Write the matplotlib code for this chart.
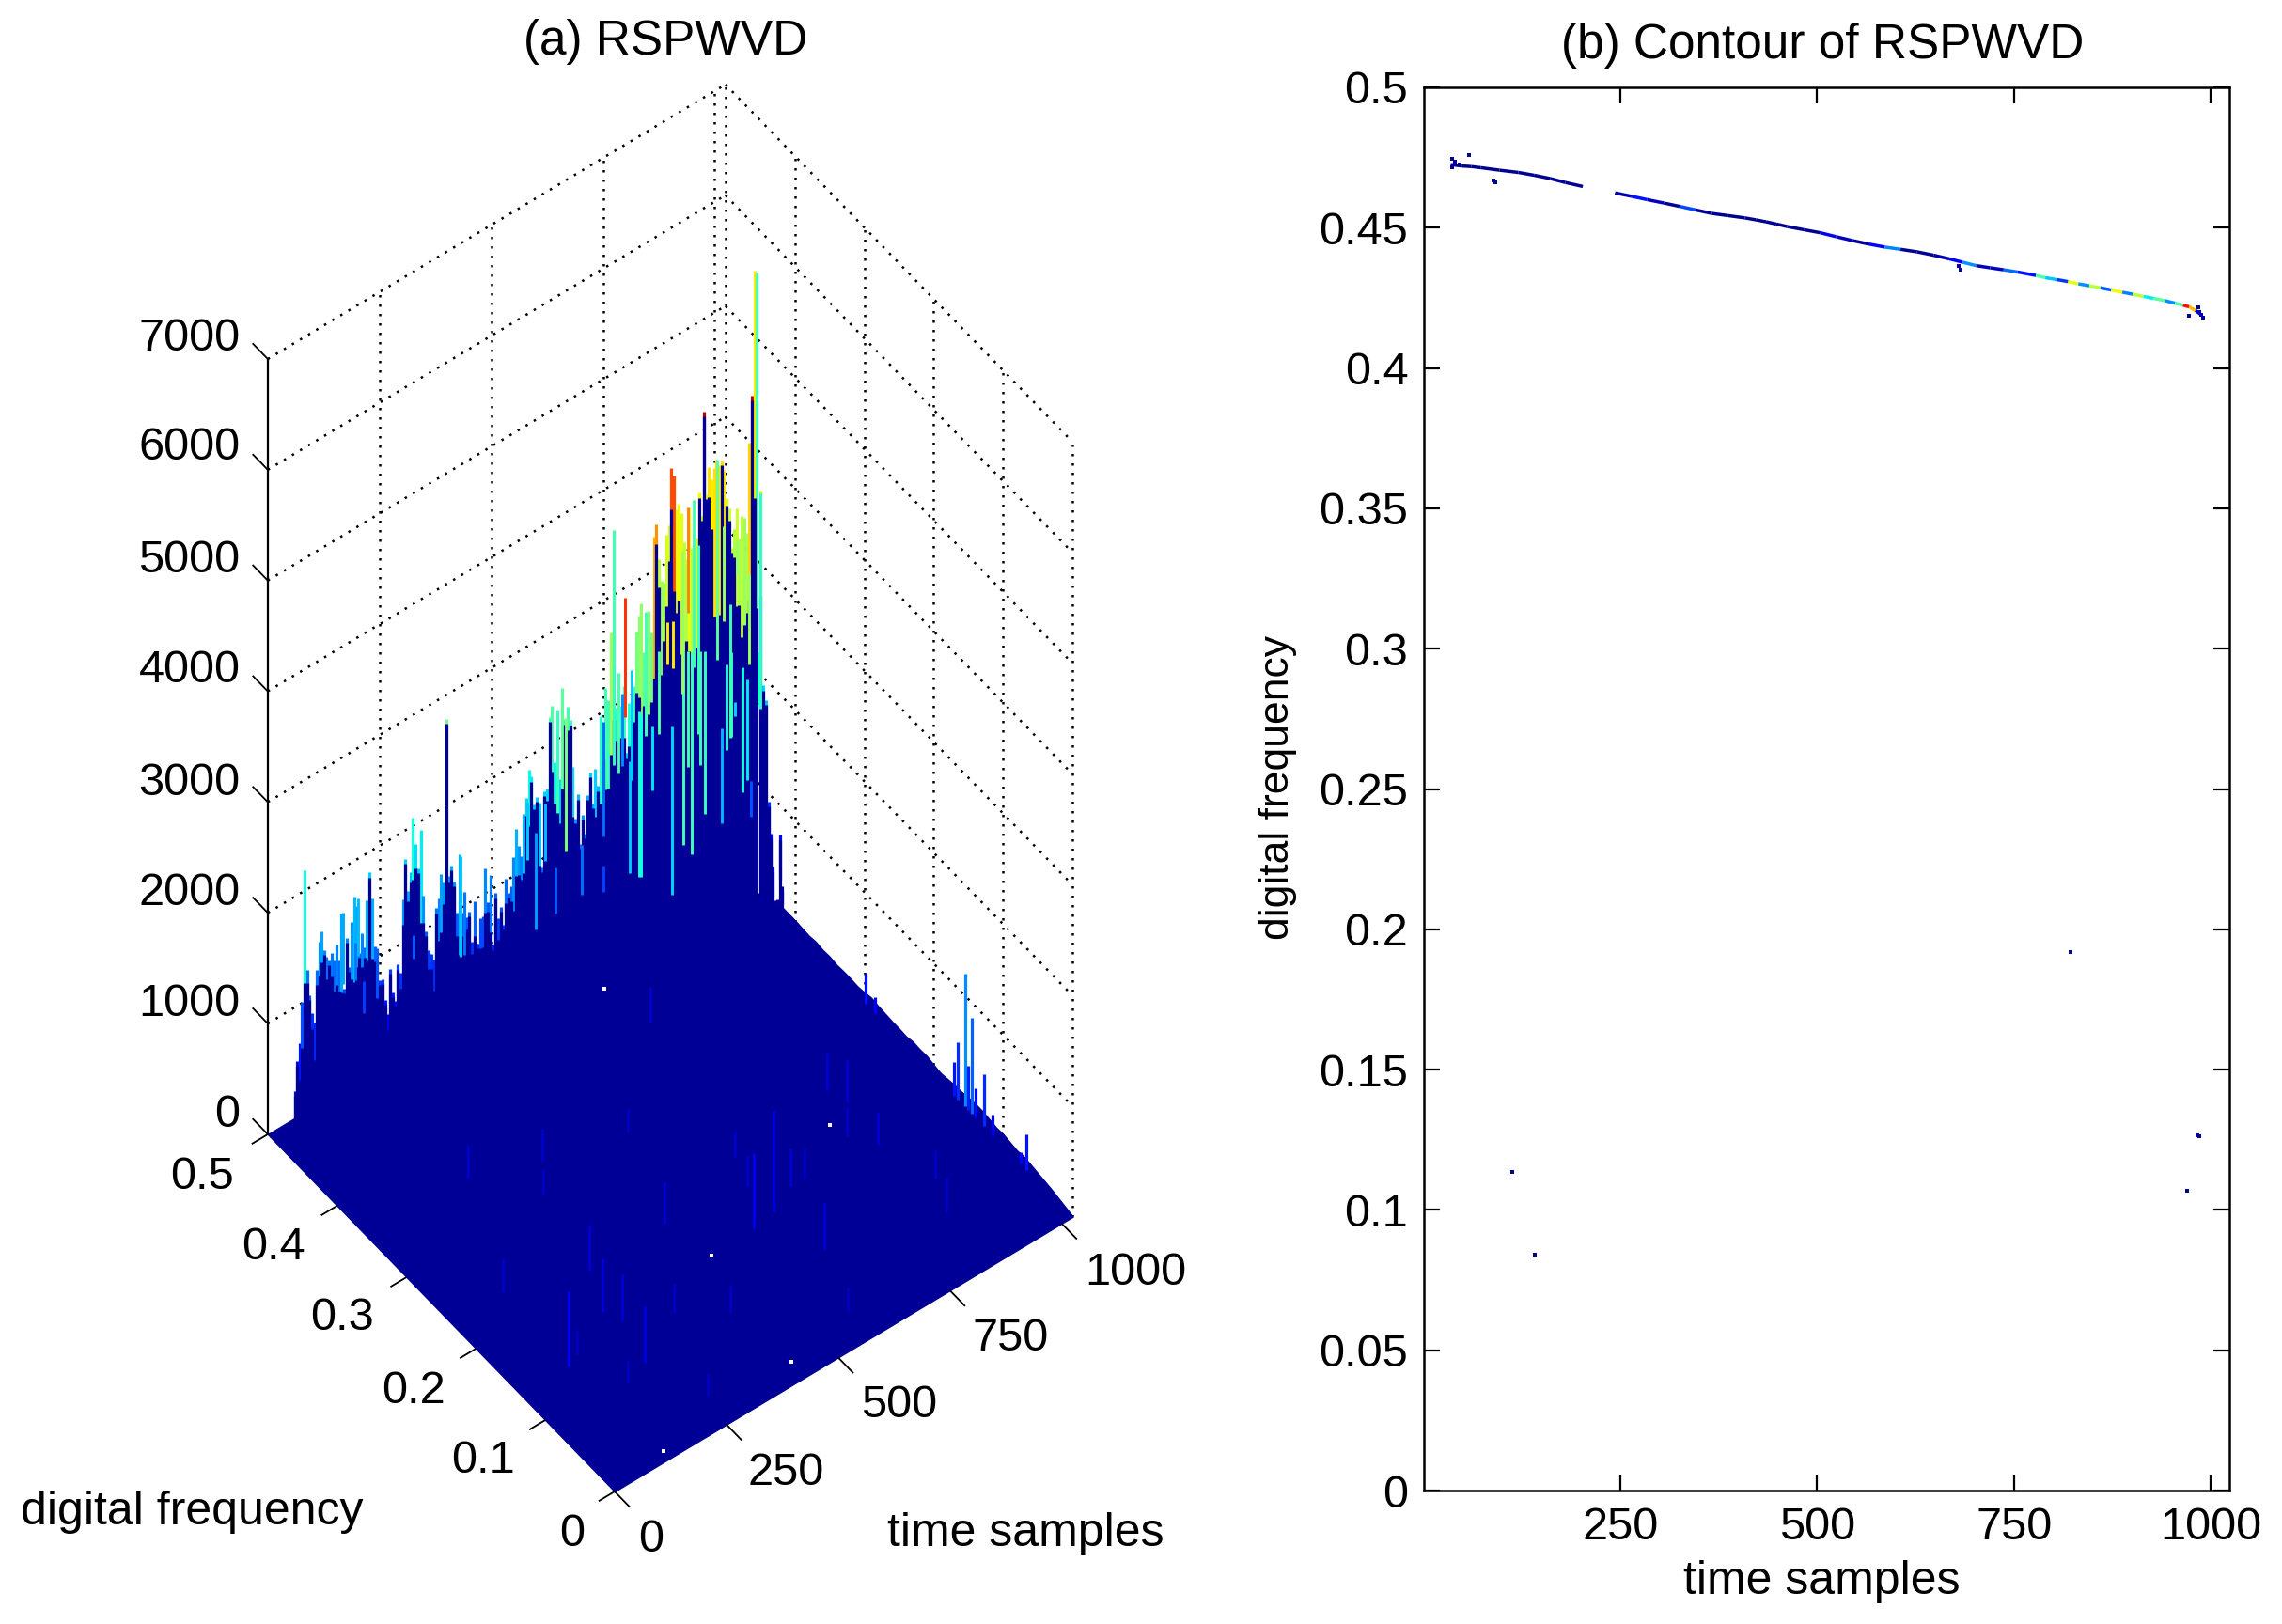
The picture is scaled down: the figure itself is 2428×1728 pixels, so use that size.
import numpy as np
import matplotlib
matplotlib.use("Agg")
import matplotlib.pyplot as plt
from matplotlib.collections import LineCollection
from mpl_toolkits.mplot3d import proj3d
from mpl_toolkits.mplot3d.art3d import Line3DCollection, Poly3DCollection

plt.rcParams['font.family'] = ['Liberation Sans', 'DejaVu Sans']

# ---------- data ----------
time_limits = [0, 1024]
freq_limits = [0, 0.5]
height_limits = [0, 7000]
time_ticks = [0, 250, 500, 750, 1000]
freq_ticks_3d = [0, 0.1, 0.2, 0.3, 0.4, 0.5]
height_ticks = [0, 1000, 2000, 3000, 4000, 5000, 6000, 7000]
contour_freq_ticks = [0, 0.05, 0.1, 0.15, 0.2, 0.25, 0.3, 0.35, 0.4, 0.45, 0.5]
contour_time_ticks = [250, 500, 750, 1000]
color_max = 6500

# columns of the ridge in panel (a), read left to right
ridge_peak = [
 523,786,931,1295,2468,1553,1317,1139,1043,1513,1756,1838,1655,1586,1540,1594,1513,1644,1492,1904,
 1213,1662,1390,1782,2004,1906,1473,1636,1499,1917,2155,1907,1466,1440,1143,1143,942,800,1200,977,
 887,1207,1124,1772,2128,1830,1990,2465,2223,1988,2330,1720,1388,1205,1167,1099,1555,1628,1838,1756,
 3221,1793,1875,1723,1432,1942,1406,1581,1345,1386,1099,1453,1064,
 1059,1274,1279,1697,1385,1622,977,1434,1200,1289,1120,1518,1383,1428,1686,1931,1764,1663,2033,2165,
 2410,2335,2074,2133,2066,1472,2152,2166,2799,2889,2371,2833,2199,3006,2714,2813,2683,2251,1776,1978,
 1520,1776,1595,1927,2120,1829,2134,1966,2588,2228,2823,2702,3304,4213,2600,2900,2600,2763,2148,2589,
 2242,2718,3201,
 3330,3434,2979,3093,3335,3129,3977,4081,3755,3547,3524,3949,4016,4528,4446,4128,4174,4073,3805,3639,
 4095,3719,3632,3792,4183,3963,4896,4136,4373,4249,4347,4407,4348,4380,4286,4014,3913,3551,3706,3886,
 3600,3793,3300,3620,4421,4841,5958,5930,3954,2189,2050,1124,819,513,189,190,758,282]
ridge_core = [
 523,786,601,873,1454,1440,1317,998,705,1372,1446,1551,1655,1383,1540,1382,1232,1278,1211,1195,
 1213,1662,1390,1269,1229,1357,1465,1335,1408,1368,2155,1372,1331,1096,1143,1143,942,659,1200,977,
 887,1207,978,1547,2128,1731,1891,1908,1998,1988,1485,1475,1388,1036,1026,818,1555,1248,1317,1559,
 3221,1736,1875,1681,1221,1036,1195,1018,1232,1386,987,1144,825,
 1059,1000,1000,1300,1300,1100,977,1434,1000,1289,1120,1300,1383,1300,1200,1500,1500,1450,1500,2000,
 1900,2335,2074,2133,1500,1472,2152,2050,2799,2300,2000,1900,1800,2100,2714,2600,2683,1800,1776,1978,
 1520,1776,1595,1927,2120,1829,1700,1966,1800,2228,1900,1900,2200,2500,2300,2000,2308,2300,2148,2200,
 2242,2400,2650,
 2600,2300,2500,2300,2400,2500,2700,3900,3500,2700,3000,3300,3700,4150,3400,3200,3300,2800,2400,2900,
 2800,2600,2700,2800,4183,3963,4896,4136,4100,3800,3000,2900,3000,4380,3300,3950,3800,3551,3450,3000,
 3000,2700,2800,2900,3000,4841,3900,2900,3000,2189,2050,1124,819,513,189,150,758,282]
ridge_block_counts = [73, 63, 58]
ridge_block_times = [(18, 396), (398, 725), (730, 1025)]
# columns whose facet colour differs from what their height gives
shade_index = [125, 126, 142, 143, 149, 150, 162, 181, 182, 183]
shade_value = [3500, 2800, 4700, 4900, 5400, 5400, 6200, 6200, 4300, 2800]

# contour ridge of panel (b); NaN marks a gap in the trace
contour_t = [34,48,60,72,96,120,140,161,180,202,np.nan,243,264,284,305,325,346,366,387,408,422,435,448,462,483,
             504,524,545,565,586,606,627,648,668,685,702,720,737,755,778,790,805,819,832,846,860,874,888,901,915,
             928,942,955,965,973,981,989]
contour_f = [.4725,.472,.4718,.4714,.4705,.4697,.4687,.4675,.4661,.4647,np.nan,.4624,.4612,.46,.4588,.4576,.4563,
             .4551,.4543,.4535,.4528,.4521,.4513,.4504,.4493,.4482,.4468,.4454,.4442,.4431,.4423,.4414,.4402,.4389,
             .4377,.4365,.4357,.435,.4342,.433,.4322,.4315,.4308,.43,.4293,.4286,.4278,.427,.4263,.4255,.4248,.424,
             .4231,.4224,.4218,.4205,.4188]
contour_z = [100,100,50,100,100,100,100,100,100,50,0,200,800,300,100,1100,100,100,50,100,50,100,50,100,100,
             600,300,100,700,1400,100,100,200,600,1500,300,300,1300,800,2500,1800,1000,3500,1500,3200,1200,3600,
             1400,3200,2000,2600,1500,2500,5000,4000,300,100]
stray_t = [57, 89, 682, 973, 112, 141, 970, 983, 822, 986, 36, 40, 45, 36, 984, 986, 988, 990, 91, 680]
stray_f = [.476, .4669, .435, .4186, .1136, .084, .1068, .1266, .192, .1263, .4745, .4735, .4725, .4715,
           .4215, .42, .419, .418, .4662, .4365]

# back rim of the floor at the far time edge
rim_band_freq = [.42,.40,.39,.38,.37,.36,.35,.34,.33,.32,.31,.30,.29,.28,.27,.26,.25,.24,.23,.22,.21,.20,.19,.18,.17,.16,
                 .15,.14,.13,.12,.11,.10,.09,.08,.07,.06,.05,.04,.03,.02,.01,0]
rim_band_height = [100,100,95,90,100,90,95,85,90,90,85,95,110,100,95,90,90,85,100,95,100,85,75,85,95,100,
                   110,120,120,110,100,105,95,85,95,85,75,65,55,40,25,10]
rim_spike_freq = [.298,.285,.17,.165,.155,.15,.145,.14,.127,.115,.066,.075]
rim_spike_height = [275,150,300,513,1194,400,863,262,470,180,320,100]

# faint spikes standing on the floor
streak_t = [267,229,106,219,245,609,667,438,694,863,557,629,351,606,512,117,816,849,630,851,854,409,329,698,135,262,223,305,167,883,575]
streak_f = [.209,.165,.135,.098,.147,.164,.177,.21,.396,.221,.159,.103,.33,.2,.311,.236,.191,.167,.232,.242,.072,.097,.127,.176,.141,.035,.355,.3,.088,.107,.035]
streak_z = [415,490,680,510,415,905,340,377,320,377,680,415,300,280,220,300,260,300,240,340,300,240,260,280,220,200,300,240,220,260,220]

# lighter stripes inside the ridge body
stripe_t = [734,757,771,798,821,831,839,857,866,902,912,920,929,943,954,961,976,517,558,612,657,730,711,266,146,190,163,
            788,801,820,831,844,853,892,905,918,932,947,958,979,679,696,714,657,562,579,501,536,361,152,122,700,745]
stripe_hi = [2434,2274,2921,2189,2818,2798,2780,2744,2724,1960,2517,2612,2143,2424,2297,1360,2498,1814,1419,1506,1229,2471,2062,1403,1581,1349,1195,
             3156,3138,3735,4098,4139,3710,4405,3777,3046,3592,3770,3232,3924,2993,2700,2877,2523,2805,2726,2112,2040,1926,1970,1904,3558,3339]
stripe_lo = [969,1697,2175,669,1072,1756,949,1724,1260,1101,1743,1846,2016,1298,1386,1037,2013,941,997,1055,990,979,1048,1192,1243,997,913,
             2768,2707,2442,3150,2631,2006,2595,2915,1839,3290,2820,2420,1985,2088,2050,1886,1488,2064,1521,1594,1520,1020,1453,1260,2480,2218]
stripe_shade = [2434,2274,2921,2189,2818,2798,2780,2744,2724,1960,2517,2612,2143,2424,2297,1360,2498,1814,1419,1506,1229,2471,2062,1403,1581,1349,1195,
                4300,4300,3500,5000,2800,2800,3000,3500,2800,3500,3500,3500,2600,2700,1700,2100,1500,2700,3300,2100,2000,2100,2000,1900,5600,2800]

hole_t = [676, 461, 428, 124, 808]
hole_f = [.45, .157, .021, .01, .21]

# ---------- figure ----------
W, H = 2428, 1728
fig = plt.figure(figsize=(W / 100, H / 100), dpi=100, facecolor='white')
jet = plt.get_cmap('jet')
navy = jet(0.02)
TICK_FS = 35
LABEL_FS = 36
TITLE_FS = 37


def pxtext(x, y, s, **kw):
    kw.setdefault('ha', 'center')
    kw.setdefault('va', 'center')
    fig.text(x / W, 1 - y / H, s, **kw)


# ---------- panel (a) ----------
side = 1700
ax = fig.add_axes([0, 0, side / W, side / H], projection='3d', proj_type='ortho')
ax.computed_zorder = False
ax.set_axis_off()
ax.patch.set_alpha(0)
ax.view_init(elev=51.8, azim=-127.35)
ax.set_xlim(*time_limits, view_margin=0)
ax.set_ylim(*freq_limits, view_margin=0)
ax.set_zlim(*height_limits, view_margin=0)
box = (612.6, 608.4, 1334)
ax.set_box_aspect(box, zoom=1.0)


def to_px(x, y, z):
    ax.apply_aspect()
    X, Y, _ = proj3d.proj_transform(x, y, z, ax.get_proj())
    return ax.transData.transform((X, Y))


# fit the projected box onto the reference: origin and far time corner
p0 = to_px(0, 0, 0)
p1 = to_px(time_limits[1], 0, 0)
ax.set_box_aspect(box, zoom=np.hypot(487, 292) / np.hypot(*(p1 - p0)))
p0 = to_px(0, 0, 0)
target = np.array([654, H - 1587])
pos = ax.get_position()
ax.set_position([pos.x0 + (target[0] - p0[0]) / W, pos.y0 + (target[1] - p0[1]) / H, pos.width, pos.height])

t_end, f_end, z_end = time_limits[1], freq_limits[1], height_limits[1]
grid = []
for z in height_ticks[1:]:
    grid.append([(0, f_end, z), (t_end, f_end, z)])
    grid.append([(t_end, f_end, z), (t_end, 0, z)])
for t in time_ticks[1:]:
    grid.append([(t, f_end, 0), (t, f_end, z_end)])
for f in freq_ticks_3d[1:-1]:
    grid.append([(t_end, f, 0), (t_end, f, z_end)])
grid.append([(t_end, f_end, 0), (t_end, f_end, z_end)])
grid.append([(t_end, 0, 0), (t_end, 0, z_end)])


def add_lines(segs, colors, lw, zorder, **kw):
    lc = Line3DCollection(segs, colors=colors, linewidths=lw, zorder=zorder, capstyle='butt', **kw)
    lc.set_clip_on(False)
    ax.add_collection3d(lc, autolim=False)
    return lc


def add_poly(verts, zorder):
    pc = Poly3DCollection([verts], facecolors=[navy], edgecolors=[navy], linewidths=1, zorder=zorder)
    pc.set_clip_on(False)
    ax.add_collection3d(pc, autolim=False)


add_lines(grid, 'black', 1.8, 1, linestyles=[(0, (1, 3))])

add_poly([(0, 0, 0), (t_end, 0, 0), (t_end, f_end, 0), (0, f_end, 0)], 2)
add_poly([(t_end, rim_band_freq[0], 0)] + [(t_end, b, c) for b, c in zip(rim_band_freq, rim_band_height)]
         + [(t_end, rim_band_freq[-1], 0)], 3)

ridge_t = np.concatenate([np.linspace(a, b, n) for (a, b), n in zip(ridge_block_times, ridge_block_counts)])
known_t = [v for v in contour_t if v == v]
known_f = [v for v in contour_f if v == v]
ridge_f = np.interp(ridge_t, known_t, known_f)
ridge_peak = np.array(ridge_peak, float)
ridge_core = np.array(ridge_core, float)
ridge_shade = ridge_peak.copy()
ridge_shade[shade_index] = shade_value
core_top = np.minimum(ridge_core, ridge_peak - 45)

# coloured columns start inside the navy body so their feet never show
add_lines([[(a, b, d * 0.5), (a, b, c)] for a, b, c, d in zip(ridge_t, ridge_f, ridge_peak, core_top)],
          [jet(v / color_max) for v in ridge_shade], 2.3, 3)
add_lines([[(a, b, 0), (a, b, c)] for a, b, c in zip(ridge_t, ridge_f, core_top)], [navy], 2.3, 4)

stripe_f = np.interp(stripe_t, known_t, known_f)
add_lines([[(a, b, lo), (a, b, hi)] for a, b, lo, hi in zip(stripe_t, stripe_f, stripe_lo, stripe_hi)],
          [jet(v / color_max) for v in stripe_shade], 2.1, 5)

add_lines([[(t_end, b, 0), (t_end, b, c)] for b, c in zip(rim_spike_freq, rim_spike_height)],
          [jet(0.1 + v / color_max * 0.9) for v in rim_spike_height], 2.3, 3)
add_lines([[(a, b, 0), (a, b, c)] for a, b, c in zip(streak_t, streak_f, streak_z)],
          [jet(0.045 + v / 5600 * 0.5) for v in streak_z], 1.8, 6)

holes = ax.scatter(hole_t, hole_f, [0] * len(hole_t), s=6, c='white', marker='s', linewidths=0, zorder=7,
                   depthshade=False)
holes.set_clip_on(False)

# axes and ticks
add_lines([[(0, f_end, 0), (0, f_end, z_end)]], 'black', 1.6, 8)
tick_dt, tick_df = 36, 0.022
ticks = []
for z in height_ticks:
    ticks.append([(0, f_end, z), (0, f_end + tick_df, z)])
for t in time_ticks:
    ticks.append([(t, 0, 0), (t, -tick_df, 0)])
for f in freq_ticks_3d:
    ticks.append([(0, f, 0), (-tick_dt, f, 0)])
add_lines(ticks, 'black', 1.3, 8)

k = 1.5485
for z, y in zip(height_ticks, [766, 690, 614, 538, 461, 385, 308, 233]):
    pxtext(165 * k, y * k, str(z), ha='right', fontsize=TICK_FS)
for f, (x, y) in zip(freq_ticks_3d, [(393, 1054), (332, 1004), (284, 956), (235, 906), (188, 857), (139, 809)]):
    pxtext(x * k, y * k, f'{f:g}', fontsize=TICK_FS)
for t, (x, y) in zip(time_ticks, [(447, 1058), (540, 1012), (618, 966), (694, 920), (780, 875)]):
    pxtext(x * k, y * k, str(t), fontsize=TICK_FS)
pxtext(132 * k, 1039 * k, 'digital frequency', fontsize=LABEL_FS)
pxtext(705 * k, 1054 * k, 'time samples', fontsize=LABEL_FS)
pxtext(457 * k, 29 * k, '(a) RSPWVD', fontsize=TITLE_FS)

# ---------- panel (b) ----------
left, right, top, bottom = 1515, 2372, 93, 1586
bx = fig.add_axes([left / W, 1 - bottom / H, (right - left) / W, (bottom - top) / H])
bx.set_xlim(*time_limits)
bx.set_ylim(*freq_limits)
bx.set_xticks(contour_time_ticks)
bx.set_yticks(contour_freq_ticks)
bx.set_yticklabels([f'{v:g}' for v in contour_freq_ticks])
bx.tick_params(direction='in', top=True, right=True, length=12.5, width=1.6, labelsize=TICK_FS, pad=12)
for sp in bx.spines.values():
    sp.set_linewidth(1.8)

segs, cols = [], []
for i in range(len(contour_t) - 1):
    if np.isnan(contour_t[i]) or np.isnan(contour_t[i + 1]):
        continue
    segs.append([(contour_t[i], contour_f[i]), (contour_t[i + 1], contour_f[i + 1])])
    cols.append(jet(contour_z[i] / 5600))
bx.add_collection(LineCollection(segs, colors=cols, linewidths=2.5, capstyle='butt'))
bx.scatter(stray_t, stray_f, s=6, c=[navy], marker='s', linewidths=0)

pxtext(1252 * k, 1087 * k, 'time samples', fontsize=LABEL_FS)
pxtext(878 * k, 541 * k, 'digital frequency', fontsize=32, rotation=90)
pxtext(1252 * k, 31 * k, '(b) Contour of RSPWVD', fontsize=TITLE_FS)

fig.savefig('out.png', dpi=100)
